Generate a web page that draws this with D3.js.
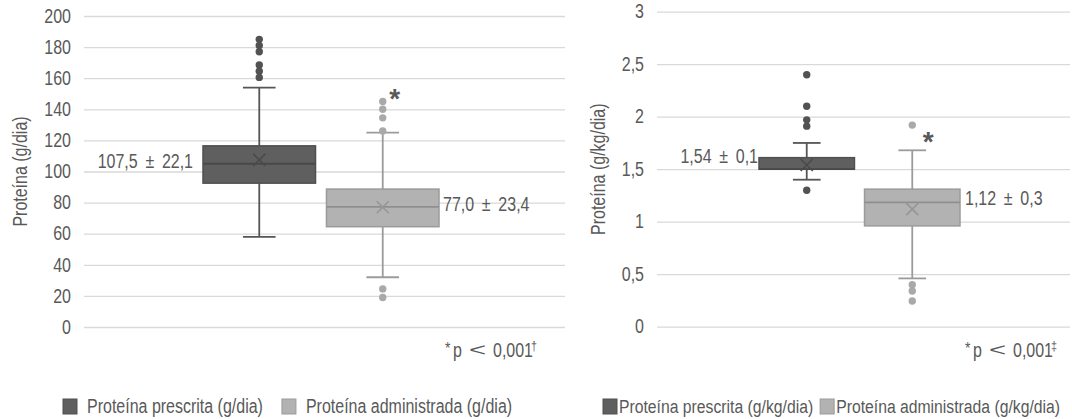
<!DOCTYPE html>
<html>
<head>
<meta charset="utf-8">
<script src="https://cdn.jsdelivr.net/npm/d3@7"></script>
<style>
  body { margin: 0; background: #fff; }
  svg text { font-family: 'Liberation Sans', Arial, sans-serif; fill: #595959; }
</style>
</head>
<body>
<svg id="chart" width="1072" height="419"></svg>
<script>
// Proteína em g/dia
const gdSeries = ['Proteína prescrita (g/dia)', 'Proteína administrada (g/dia)'];
const gdLow = [58, 32];
const gdQ1 = [92.5, 64.5];
const gdMedian = [105, 77.2];
const gdQ3 = [116.5, 88.7];
const gdHigh = [154, 125];
const gdMean = [107.5, 77.0];
const gdOutliers = [[185, 181, 177, 168.5, 164.5, 160.5], [145, 140, 134.5, 126, 24.5, 19]];
const gdLabels = [['107,5', '22,1'], ['77,0', '23,4']];
const gdTicks = [0, 20, 40, 60, 80, 100, 120, 140, 160, 180, 200];

// Proteína em g/kg/dia
const kgSeries = ['Proteína prescrita (g/kg/dia)', 'Proteína administrada (g/kg/dia)'];
const kgLow = [1.40, 0.46];
const kgQ1 = [1.50, 0.96];
const kgMedian = [1.50, 1.185];
const kgQ3 = [1.61, 1.31];
const kgHigh = [1.75, 1.68];
const kgMean = [1.54, 1.12];
const kgOutliers = [[2.4, 2.1, 1.97, 1.91, 1.3], [1.92, 0.40, 0.34, 0.245]];
const kgLabels = [['1,54', '0,1'], ['1,12', '0,3']];
const kgTicks = [0, 0.5, 1, 1.5, 2, 2.5, 3];

const locale = d3.formatLocale({ decimal: ',', thousands: '.', grouping: [3], currency: ['', ''] });
const fmt = locale.format('~g');
const NARROW = 0.82; // condensed look

const styles = [
    { fill: '#5f5f5f', stroke: '#505050', whisker: '#555555', median: '#484848', mean: '#4a4a4a', dot: '#525252' },
    { fill: '#b2b2b2', stroke: '#9b9b9b', whisker: '#9b9b9b', median: '#8f8f8f', mean: '#969696', dot: '#a9a9a9' }
];

const svg = d3.select('#chart');

// squeeze text horizontally
function condense(sel) {
    sel.each(function () {
        this.setAttribute('textLength', this.getComputedTextLength() * NARROW);
        this.setAttribute('lengthAdjust', 'spacingAndGlyphs');
    });
}

// text drawn in a horizontally scaled frame
function narrow(parent, x, y, size, sx = NARROW) {
    return parent.append('text')
        .attr('transform', `translate(${x},${y}) scale(${sx},1)`)
        .attr('font-size', size);
}

function drawPanel(p) {
    const y = d3.scaleLinear().domain(p.domain).range([p.bottom, p.top]);
    const x = d3.scaleBand().domain(p.series).range(p.boxRange).paddingInner(p.innerPad);
    const g = svg.append('g');

    // grid + tick labels
    g.append('g')
        .attr('transform', `translate(${p.left},0)`)
        .call(d3.axisLeft(y).tickValues(p.ticks).tickFormat(fmt)
            .tickSize(-(p.right - p.left)).tickPadding(13))
        .call(a => a.select('.domain').remove())
        .call(a => a.selectAll('line').attr('stroke', '#d9d9d9').attr('stroke-width', 1.3))
        .call(a => a.selectAll('text').attr('font-size', 19.5).attr('fill', '#595959')
            .style('font-family', null).call(condense));

    // y title
    g.append('text')
        .attr('transform', `translate(${p.titleX},${(p.top + p.bottom) / 2}) rotate(-90)`)
        .attr('text-anchor', 'middle').attr('dy', '0.35em').attr('font-size', 19.5)
        .text(p.title).call(condense);

    const bw = x.bandwidth();
    const capW = bw * 0.29;

    p.series.forEach((s, i) => {
        const st = styles[i];
        const cx = x(s) + bw / 2;
        const b = g.append('g');
        // whiskers
        b.append('line').attr('x1', cx).attr('x2', cx).attr('y1', y(p.high[i])).attr('y2', y(p.q3[i]))
            .attr('stroke', st.whisker).attr('stroke-width', 1.8);
        b.append('line').attr('x1', cx).attr('x2', cx).attr('y1', y(p.q1[i])).attr('y2', y(p.low[i]))
            .attr('stroke', st.whisker).attr('stroke-width', 1.8);
        [p.high[i], p.low[i]].forEach(v => {
            b.append('line').attr('x1', cx - capW / 2).attr('x2', cx + capW / 2).attr('y1', y(v)).attr('y2', y(v))
                .attr('stroke', st.whisker).attr('stroke-width', 1.8);
        });
        // box
        b.append('rect').attr('x', x(s)).attr('width', bw)
            .attr('y', y(p.q3[i])).attr('height', y(p.q1[i]) - y(p.q3[i]))
            .attr('fill', st.fill).attr('stroke', st.stroke).attr('stroke-width', 1.5);
        b.append('line').attr('x1', x(s)).attr('x2', x(s) + bw).attr('y1', y(p.median[i])).attr('y2', y(p.median[i]))
            .attr('stroke', st.median).attr('stroke-width', 1.8);
        // mean
        b.append('path').attr('d', d3.symbol(d3.symbolX, 96)())
            .attr('transform', `translate(${cx},${y(p.mean[i])})`)
            .attr('fill', 'none').attr('stroke', st.mean).attr('stroke-width', 1.6);
        // outliers
        b.selectAll('circle').data(p.outliers[i]).join('circle')
            .attr('cx', cx).attr('cy', d => y(d)).attr('r', 3.7).attr('fill', st.dot);
        // mean ± sd label
        const lt = narrow(b, i === 0 ? x(s) - p.labelGap[i] : x(s) + bw + p.labelGap[i],
            y(p.mean[i]) + p.labelDy[i], p.labelSize)
            .attr('text-anchor', i === 0 ? 'end' : 'start').attr('dy', '0.35em');
        lt.append('tspan').text(p.labels[i][0]);
        lt.append('tspan').attr('dx', 4).text(' ± ');
        lt.append('tspan').attr('dx', 4).text(p.labels[i][1]);
    });

    // asterisk on second series
    const s2 = p.series[1];
    g.append('text')
        .attr('x', x(s2) + bw / 2 + p.starDx)
        .attr('y', y(d3.max([p.high[1], ...p.outliers[1]])) + p.starDy)
        .attr('text-anchor', 'middle').attr('font-size', 28).attr('font-weight', 'bold')
        .attr('fill', '#595959')
        .text('*');

    // footnote
    const nx = p.noteX;
    narrow(g, nx, 354, 17).text('*');
    narrow(g, nx + 8, 357, 19.5).text('p');
    narrow(g, nx + 24, 356, 19, 1.55).text('<');
    narrow(g, nx + 48, 357, 19.5).text('0,001');
    narrow(g, nx + 86, 350, 12, 0.9).text(p.noteMark);

    // legend
    let lx = p.legendX;
    p.series.forEach((s, i) => {
        g.append('rect').attr('x', lx).attr('y', 399).attr('width', 14).attr('height', 15)
            .attr('fill', styles[i].fill).attr('stroke', styles[i].stroke).attr('stroke-width', 1);
        const t = narrow(g, lx + 14 + p.legendPad, 406.5, p.legendSize)
            .attr('dy', '0.35em').text(s);
        lx = lx + 14 + p.legendPad + t.node().getComputedTextLength() * NARROW + p.legendGap;
    });
}

drawPanel({
    series: gdSeries, low: gdLow, q1: gdQ1, median: gdMedian, q3: gdQ3, high: gdHigh,
    mean: gdMean, outliers: gdOutliers, labels: gdLabels, ticks: gdTicks,
    domain: [0, 200], left: 84, right: 565, top: 16, bottom: 327,
    boxRange: [203, 439], innerPad: 11 / 124,
    title: 'Proteína (g/dia)', titleX: 20,
    labelGap: [10, 4], labelDy: [1, -3], labelSize: 19.5,
    starDx: 12, starDy: 6, noteX: 445, noteMark: '†',
    legendX: 63, legendPad: 10, legendGap: 19, legendSize: 19.5
});

drawPanel({
    series: kgSeries, low: kgLow, q1: kgQ1, median: kgMedian, q3: kgQ3, high: kgHigh,
    mean: kgMean, outliers: kgOutliers, labels: kgLabels, ticks: kgTicks,
    domain: [0, 3], left: 657, right: 1070, top: 11.7, bottom: 326.7,
    boxRange: [759, 960], innerPad: 10 / 105,
    title: 'Proteína (g/kg/dia)', titleX: 598,
    labelGap: [1, 5], labelDy: [-9, -11], labelSize: 19.5,
    starDx: 16, starDy: 26, noteX: 965, noteMark: '‡',
    legendX: 603, legendPad: 2, legendGap: 7, legendSize: 19.2
});
</script>
</body>
</html>
